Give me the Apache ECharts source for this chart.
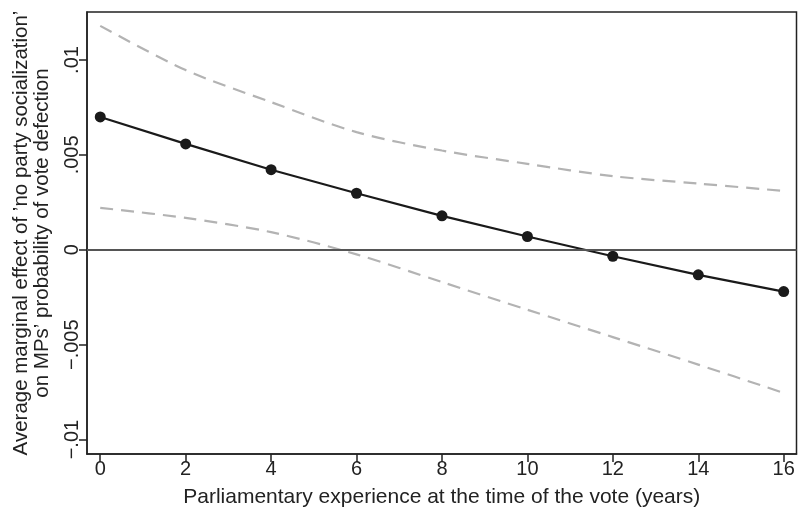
<!DOCTYPE html>
<html>
<head>
<meta charset="utf-8">
<script src="https://cdn.jsdelivr.net/npm/echarts@6/dist/echarts.min.js"></script>
<style>
  html, body { margin: 0; padding: 0; background: #fff; }
  #chart { width: 798px; height: 511px; }
</style>
</head>
<body>
<div id="chart"></div>
<script>
  // years of parliamentary experience
  const years = [0, 2, 4, 6, 8, 10, 12, 14, 16]
  // average marginal effect and 95% bounds
  const effect = [0.00700, 0.00558, 0.00422, 0.00298, 0.00179, 0.00070, -0.00034, -0.00132, -0.00220]
  const upper = [0.01180, 0.00947, 0.00778, 0.00620, 0.00523, 0.00453, 0.00388, 0.00349, 0.00310]
  const lower = [0.00221, 0.00168, 0.00093, -0.00024, -0.00170, -0.00316, -0.00460, -0.00605, -0.00754]
  const xTicks = [0, 2, 4, 6, 8, 10, 12, 14, 16]
  const yTicks = [-0.01, -0.005, 0, 0.005, 0.01]
  const yTickLabels = ['\u2212.01', '\u2212.005', '0', '.005', '.01']

  const font = 'Liberation Sans, Arial, Helvetica, sans-serif'
  const pairs = arr => years.map((x, i) => [x, arr[i]])

  const chart = echarts.init(document.getElementById('chart'))
  const ciStyle = { color: '#b3b3b3', width: 2.2, type: [13, 8] }

  const option = {
    animation: false,
    backgroundColor: '#fff',
    textStyle: { fontFamily: font },
    grid: {
      left: 87, right: 1.5, top: 12, bottom: 57,
      outerBoundsMode: 'none',
      containLabel: false,
      show: true, borderColor: '#222', borderWidth: 1.5
    },
    xAxis: {
      type: 'value',
      min: -0.31,
      max: 16.3,
      name: 'Parliamentary experience at the time of the vote (years)',
      nameLocation: 'middle',
      nameGap: 33,
      nameTextStyle: { fontSize: 21, color: '#222', fontFamily: font },
      axisLine: { show: true, onZero: false, lineStyle: { color: '#222', width: 1.5 } },
      axisTick: { show: true, length: 8, customValues: xTicks, lineStyle: { color: '#222', width: 1.5 } },
      axisLabel: { customValues: xTicks, fontSize: 20, color: '#222', margin: 5, fontFamily: font },
      splitLine: { show: false }
    },
    yAxis: {
      type: 'value',
      min: -0.01076,
      max: 0.01253,
      name: 'Average marginal effect of \u2019no party socialization\u2019\non MPs\u2019 probability of vote defection',
      nameLocation: 'middle',
      nameRotate: 90,
      nameGap: 34,
      nameTextStyle: { fontSize: 20.5, color: '#222', lineHeight: 21, fontFamily: font },
      axisLine: { show: true, onZero: false, lineStyle: { color: '#222', width: 1.5 } },
      axisTick: { show: true, length: 8, customValues: yTicks, lineStyle: { color: '#222', width: 1.5 } },
      axisLabel: {
        customValues: yTicks,
        rotate: 90,
        fontSize: 20,
        color: '#222',
        margin: 5,
        fontFamily: font,
        formatter: v => {
          let best = 0
          yTicks.forEach((t, i) => { if (Math.abs(t - v) < Math.abs(yTicks[best] - v)) best = i })
          return yTickLabels[best]
        }
      },
      splitLine: { show: false }
    },
    series: [
      {
        name: 'upper',
        type: 'line',
        data: pairs(upper),
        smooth: 0.3,
        showSymbol: false,
        lineStyle: ciStyle,
        z: 2
      },
      {
        name: 'lower',
        type: 'line',
        data: pairs(lower),
        smooth: 0.3,
        showSymbol: false,
        lineStyle: ciStyle,
        z: 2
      },
      {
        name: 'effect',
        type: 'line',
        data: pairs(effect),
        symbol: 'circle',
        symbolSize: 11,
        itemStyle: { color: '#1a1a1a' },
        lineStyle: { color: '#1a1a1a', width: 2.2 },
        z: 4,
        markLine: {
          silent: true,
          symbol: 'none',
          label: { show: false },
          lineStyle: { color: '#555', width: 2.2, type: 'solid' },
          data: [{ yAxis: 0 }]
        }
      }
    ]
  }
  chart.setOption(option)
</script>
</body>
</html>
